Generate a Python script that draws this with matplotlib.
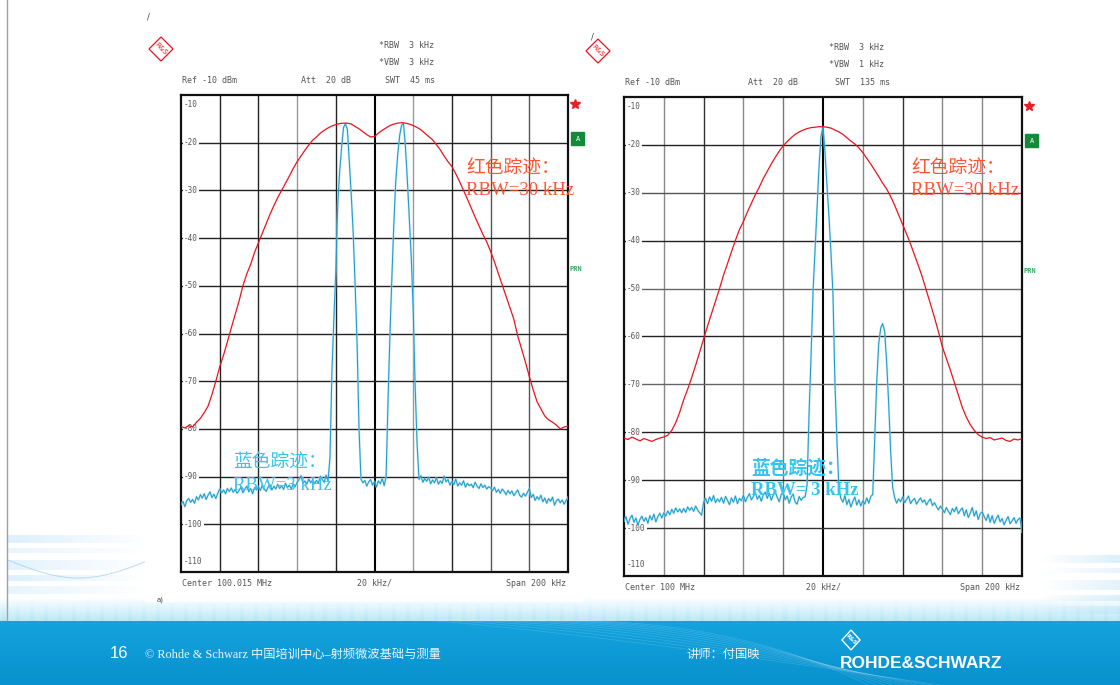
import numpy as np
import matplotlib.pyplot as plt
from matplotlib.patches import Rectangle, Polygon

# ---------------------------------------------------------------------------
# Spectrum analyser traces (level in dBm), frequency offset from centre in kHz
# ---------------------------------------------------------------------------
span_khz = (-100, 100)
ref_levels = [-10, -20, -30, -40, -50, -60, -70, -80, -90, -100, -110]

# red traces are sampled every 2 kHz, blue traces every 1 kHz
freq_red = np.arange(-100, 101, 2)
freq_blue = np.arange(-100, 101, 1)

# a) two carriers, RBW 30 kHz (red) and RBW 3 kHz (blue)
left_red = [
    -79.5, -79.8, -79.3, -79.6, -78.6, -77.8, -76.6, -75.2, -72.8, -70.0,
    -67.0, -64.5, -61.7, -58.8, -56.0, -53.2, -50.0, -47.5, -45.5, -43.0,
    -41.0, -39.0, -37.0, -35.0, -33.2, -31.5, -30.0, -28.5, -27.0, -25.4,
    -24.0, -22.8, -21.6, -20.5, -19.5, -18.8, -18.0, -17.4, -16.9, -16.5,
    -16.2, -16.0, -15.9, -15.9, -16.1, -16.6, -17.1, -17.7, -18.3, -18.8,
    -18.7, -18.0, -17.4, -16.9, -16.4, -16.1, -15.9, -15.8, -15.9, -16.1,
    -16.4, -16.8, -17.3, -18.0, -18.7, -19.4, -20.4, -21.5, -22.8, -24.0,
    -25.0, -26.5, -28.2, -30.0, -31.8, -33.7, -35.6, -37.4, -39.2, -40.8,
    -42.8, -45.0, -47.4, -49.8, -52.2, -54.6, -57.0, -60.5, -63.2, -66.0,
    -69.0, -71.8, -74.3, -75.8, -77.3, -78.1, -78.6, -79.2, -80.0, -79.6,
    -79.4,
]
left_blue = [
    -95.8, -95.2, -96.3, -95.0, -94.6, -95.4, -94.8, -95.6, -94.2, -94.9,
    -93.8, -94.5, -93.6, -94.8, -93.9, -93.2, -94.4, -93.7, -94.6, -93.5,
    -92.6, -93.4, -92.8, -93.6, -92.5, -93.1, -92.4, -93.3, -92.7, -93.5,
    -92.9, -92.2, -93.4, -92.6, -92.0, -93.2, -92.5, -93.6, -92.3, -92.8,
    -92.1, -92.9, -91.8, -92.6, -93.1, -92.2, -91.7, -92.8, -92.0, -92.6,
    -91.6, -92.5, -91.9, -92.7, -91.4, -92.3, -91.8, -92.6, -91.5, -92.1,
    -91.2, -90.6, -89.8, -91.4, -90.9, -91.6, -90.5, -91.3, -90.7, -91.5,
    -90.8, -91.4, -89.9, -90.6, -91.2, -89.7, -90.9, -86.0, -68.0, -57.0,
    -47.0, -33.0, -26.0, -21.0, -16.8, -16.0, -17.3, -24.0, -31.0, -39.0,
    -50.0, -62.0, -80.0, -90.5, -91.3, -90.8, -92.0, -91.1, -90.6, -91.8,
    -91.0, -92.2, -90.9, -91.5, -90.4, -91.9, -90.0, -74.0, -60.0, -48.0,
    -37.0, -28.0, -22.5, -18.5, -16.3, -16.0, -21.0, -28.0, -36.0, -44.0,
    -55.0, -71.0, -83.0, -90.6, -89.8, -91.2, -90.4, -91.0, -90.1, -91.5,
    -90.7, -91.3, -90.2, -91.6, -90.9, -91.4, -89.9, -91.1, -90.6, -91.8,
    -91.0, -91.7, -90.5, -92.0, -91.3, -91.8, -90.9, -92.2, -91.4, -91.9,
    -91.6, -92.3, -91.2, -92.0, -92.5, -91.5, -92.3, -91.8, -92.6, -92.1,
    -92.4, -93.0, -92.2, -93.3, -92.7, -93.5, -92.6, -93.1, -93.8, -92.9,
    -93.6, -93.0, -94.0, -93.4, -92.8, -93.9, -94.3, -93.5, -94.1, -93.3,
    -92.5, -94.4, -93.7, -95.0, -94.2, -94.8, -93.9, -95.3, -94.5, -95.6,
    -94.6, -95.2, -94.3, -96.0, -95.1, -94.7, -95.5, -94.9, -95.8, -95.0,
    -94.4,
]

# b) strong carrier plus weak carrier, RBW 30 kHz (red) and RBW 3 kHz (blue)
right_red = [
    -81.2, -81.5, -81.0, -81.4, -81.8, -81.3, -81.6, -81.9, -81.5, -81.2,
    -81.0, -80.6, -79.6, -78.0, -75.8, -73.2, -71.0, -68.6, -66.0, -63.3,
    -60.5, -57.8, -55.2, -52.6, -50.0, -47.2, -44.8, -42.3, -39.9, -37.7,
    -36.0, -34.0, -32.2, -30.4, -28.8, -27.0, -25.5, -24.0, -22.6, -21.3,
    -20.2, -19.3, -18.5, -17.8, -17.3, -16.9, -16.6, -16.4, -16.3, -16.2,
    -16.2, -16.3, -16.5, -16.9, -17.3, -17.8, -18.5, -19.2, -19.8, -20.6,
    -21.6, -22.8, -24.0, -25.3, -26.6, -28.0, -29.2, -30.8, -32.6, -34.6,
    -36.6, -38.6, -40.7, -43.0, -45.3, -47.7, -50.5, -53.2, -56.0, -59.0,
    -62.2, -64.6, -67.0, -69.6, -72.2, -74.8, -76.8, -78.4, -79.6, -80.5,
    -81.0, -81.3, -81.1, -81.6, -81.4, -81.2, -81.7, -81.9, -81.4, -81.6,
    -81.3,
]
right_blue = [
    -98.5, -97.6, -99.2, -98.0, -97.3, -98.8, -97.9, -99.4, -98.2, -97.5,
    -98.6, -97.8, -99.0, -97.4, -98.3, -97.1, -98.7, -97.6, -96.9, -97.9,
    -96.8, -97.5, -96.4, -97.2, -96.1, -96.9, -95.8, -96.6, -96.0, -96.8,
    -95.9, -96.7, -95.6, -96.3, -95.7, -96.5, -95.4, -96.2, -96.8, -97.3,
    -94.6, -93.8, -94.9, -93.5, -94.4, -93.2, -94.7, -93.9, -94.5, -93.6,
    -94.8, -93.4, -94.2, -95.1, -93.7, -94.6, -93.3, -94.9, -93.8, -94.3,
    -93.1, -94.5, -93.6, -92.8, -94.1, -93.4, -92.6, -94.0, -93.2, -94.4,
    -93.0, -92.5, -93.8, -92.7, -94.2, -93.1, -92.4, -93.6, -94.5, -93.0,
    -92.6, -94.1, -93.3, -94.8, -93.5, -92.9, -94.6, -95.0, -93.4, -94.2,
    -93.6, -93.5, -91.0, -76.0, -64.0, -50.5, -42.0, -33.0, -24.5, -18.2,
    -16.2, -21.5, -28.5, -35.0, -42.5, -51.0, -69.7, -81.5, -92.0, -93.8,
    -94.6, -93.2, -95.1, -94.0, -95.6, -94.4, -93.5, -95.2, -94.1, -95.4,
    -94.3, -95.0, -93.7, -94.8, -93.4, -93.0, -81.5, -69.5, -61.5, -58.2,
    -57.3, -59.0, -65.5, -74.0, -84.0, -91.5, -93.6, -94.8, -93.9, -94.5,
    -93.5, -94.7, -94.0, -93.3, -94.9, -94.2, -93.8, -95.0, -94.3, -93.7,
    -94.6, -94.1, -95.2, -94.4, -93.9, -95.3, -94.7, -95.5, -96.2, -95.4,
    -96.0, -96.8, -95.7, -96.5, -97.2, -95.9, -96.6, -95.6, -97.0, -96.3,
    -95.8, -97.4, -96.2, -97.8, -96.9, -95.7, -97.5, -96.4, -98.2, -97.0,
    -96.6, -97.6, -98.4, -97.1, -98.8, -97.4, -99.0, -98.1, -97.3, -98.7,
    -98.0, -99.3, -98.4, -97.6, -99.1, -98.5, -97.8, -99.0, -98.2, -97.9,
    -100.8,
]

# instrument settings printed around each screen
left_header = {"rbw": "*RBW  3 kHz", "vbw": "*VBW  3 kHz", "swt": "SWT  45 ms",
               "center": "Center 100.015 MHz"}
right_header = {"rbw": "*RBW  3 kHz", "vbw": "*VBW  1 kHz", "swt": "SWT  135 ms",
                "center": "Center 100 MHz"}

W, H = 1120, 685
RED = "#e8141c"
BLUE = "#1b9cca"
BLUE_HALO = "#a6def1"
ANN_RED = "#ff5533"
ANN_BLUE = "#35c3ef"
MONO = "DejaVu Sans Mono"
SERIF_CJK = ["Liberation Serif", "Noto Sans CJK SC"]

fig = plt.figure(figsize=(W / 100, H / 100), dpi=100)
fig.patch.set_facecolor("white")
bg = fig.add_axes([0, 0, 1, 1], zorder=0)
bg.axis("off")

# ---- footer band ------------------------------------------------------------
band = np.linspace(0, 1, 60)[:, None, None]
top_c = np.array([0.08, 0.64, 0.87])
bot_c = np.array([0.03, 0.57, 0.81])
band_img = top_c * (1 - band) + bot_c * band
band_img = np.repeat(band_img, 4, axis=1)
bg.imshow(band_img, extent=[0, W, 685, 620], aspect="auto", zorder=1)

# pale strip with thin vertical hatching above the band
cols = np.linspace(0, 1, 560)
stripe = 0.5 + 0.5 * (np.sin(cols * 560 * 0.9) > 0.6)
rows = np.linspace(0, 1, 24)[:, None]
strip = np.ones((24, 560, 3))
shade = rows * (0.25 + 0.10 * stripe[None, :])
strip[..., 0] = 1 - 0.85 * shade
strip[..., 1] = 1 - 0.30 * shade
strip[..., 2] = 1 - 0.06 * shade
bg.imshow(strip, extent=[0, W, 621, 597], aspect="auto", zorder=1)

# light decorative streaks at both lower corners
for y0, h, a in [(535, 8, 0.30), (548, 5, 0.20), (560, 10, 0.25), (575, 6, 0.30), (586, 8, 0.20)]:
    grad = np.linspace(1, 0, 100)[None, :]
    col = np.ones((1, 100, 3)) * np.array([0.55, 0.80, 0.95])
    rgba = np.dstack([col, a * grad])
    bg.imshow(rgba, extent=[8, 150, y0 + h, y0], aspect="auto", zorder=1)
    rgba2 = np.dstack([col, a * grad[:, ::-1]])
    bg.imshow(rgba2, extent=[1040, 1120, y0 + h + 20, y0 + 20], aspect="auto", zorder=1)
xs = np.linspace(8, 150, 60)
bg.plot(xs, 560 + 18 * np.sin((xs - 8) / 45), color="#9ccbe8", lw=0.8, alpha=0.6, zorder=1)

# faint mesh lines inside the band
for k in range(10):
    xs = np.linspace(420 + 12 * k, 940 - 8 * k, 80)
    ys = 620 + 65 * ((xs - xs[0]) / (xs[-1] - xs[0])) ** (1.2 + 0.15 * k)
    bg.plot(xs, ys, color="white", lw=0.5, alpha=0.16, zorder=2)

# left border rule
bg.plot([7, 7], [0, 620], color="#a0a0a0", lw=1.0, zorder=2)

bg.set_xlim(0, W)
bg.set_ylim(H, 0)

# footer text
bg.text(110, 654, "16", color="white", fontsize=12, family="Liberation Sans",
        va="center", ha="left", zorder=5)
bg.text(145, 655, "© Rohde & Schwarz 中国培训中心–射频微波基础与测量", color="#eaf7fd",
        fontsize=8.8, family=SERIF_CJK, va="center", ha="left", zorder=5)
bg.text(686, 654, "讲师：付国映", color="#eaf7fd", fontsize=8.8,
        family=["Noto Sans CJK SC"], va="center", ha="left", zorder=5)
bg.text(840, 664, "ROHDE&SCHWARZ", color="white", fontsize=12.5, weight="bold",
        family="Liberation Sans", va="center", ha="left", zorder=5)
bg.add_patch(Polygon([(851, 630), (860, 640), (851, 650), (842, 640)], closed=True,
                     fill=False, ec="white", lw=1.0, zorder=5))
bg.text(851, 640, "R&S", color="white", fontsize=4, rotation=-45, ha="center",
        va="center", weight="bold", zorder=5)

# small marks on the slide
bg.text(148, 17, "/", fontsize=6, color="#444", ha="center", va="center")
bg.text(592, 37, "/", fontsize=6, color="#444", ha="center", va="center")
bg.text(160, 600, "a)", fontsize=5, color="#444", ha="center", va="center", zorder=3)


def px_axes(x0, y0, x1, y1):
    return fig.add_axes([x0 / W, 1 - y1 / H, (x1 - x0) / W, (y1 - y0) / H], zorder=3)


def rs_logo(cx, cy):
    r = 12
    bg.add_patch(Polygon([(cx, cy - r), (cx + r, cy), (cx, cy + r), (cx - r, cy)],
                         closed=True, fill=False, ec=RED, lw=0.9, zorder=4))
    bg.text(cx, cy, "R&S", color=RED, fontsize=5, rotation=-45, ha="center",
            va="center", zorder=4)


def screen(box, freq_r, red, freq_b, blue, header, vgrid, hgrid,
           hdr_pos, label_x, ann):
    x0, y0, x1, y1 = box
    ax = px_axes(x0, y0, x1, y1)
    ax.set_xlim(*span_khz)
    ax.set_ylim(ref_levels[-1], ref_levels[0])
    ax.set_xticks([])
    ax.set_yticks([])
    for s in ax.spines.values():
        s.set_linewidth(1.6)
        s.set_color("#111")

    vpos = np.arange(-80, 81, 20)
    for xv, c in zip(vpos, vgrid):
        ax.axvline(xv, color=c, lw=1.5 if xv == 0 else 1.0, zorder=1)
    for yv, c in zip(ref_levels[1:-1], hgrid):
        ax.axhline(yv, color=c, lw=1.0, zorder=1)

    # level labels along the left edge
    for lvl in ref_levels:
        if lvl == ref_levels[0]:
            yy = lvl - 2.0
        elif lvl == ref_levels[-1]:
            yy = lvl + 2.3
        else:
            yy = lvl
        ax.text(label_x, yy, f"-{abs(lvl)}", fontsize=5.5, family=MONO, color="#555",
                ha="left", va="center", zorder=2,
                bbox=dict(boxstyle="square,pad=0.15", fc="white", ec="none"))

    ax.plot(freq_b, blue, color=BLUE_HALO, lw=1.6, alpha=0.6, zorder=3)
    ax.plot(freq_b, blue, color=BLUE, lw=0.75, zorder=4)
    ax.plot(freq_r, red, color=RED, lw=0.9, zorder=5)

    # trace annotations
    (rx, ry), (bx, by), bold_blue = ann
    kw = dict(transform=bg.transData, family=SERIF_CJK, fontsize=13.5,
              ha="left", va="center", zorder=6)
    ax.text(rx, ry, "红色踪迹：", color=ANN_RED, **kw)
    ax.text(rx, ry + 21, "RBW=30 kHz", color=ANN_RED, **kw)
    bw = "bold" if bold_blue else "normal"
    ax.text(bx, by, "蓝色踪迹：", color=ANN_BLUE, weight=bw, **kw)
    ax.text(bx, by + 22, "RBW= 3 kHz" if bold_blue else "RBW=3 kHz",
            color=ANN_BLUE, weight=bw, **kw)

    # header / footer lines printed by the analyser
    hx_rbw, hy_rbw, hx_att, hy_ref = hdr_pos
    tk = dict(fontsize=6.0, family=MONO, color="#555", va="center", zorder=4)
    bg.text(hx_rbw, hy_rbw, header["rbw"], ha="left", **tk)
    bg.text(hx_rbw, hy_rbw + 17.5, header["vbw"], ha="left", **tk)
    bg.text(x0 + 1, hy_ref, "Ref -10 dBm", ha="left", **tk)
    bg.text(hx_att, hy_ref, "Att  20 dB", ha="left", **tk)
    bg.text(hx_rbw + 6, hy_ref, header["swt"], ha="left", **tk)
    bg.text(x0 + 1, y1 + 11, header["center"], ha="left", **tk)
    bg.text((x0 + x1) / 2, y1 + 11, "20 kHz/", ha="center", **tk)
    bg.text(x1 - 2, y1 + 11, "Span 200 kHz", ha="right", **tk)

    # status markers at the right of the screen
    bg.plot(x1 + 7, y0 + 9, marker="*", color="#ee1c24", ms=7, zorder=4)
    bg.add_patch(Rectangle((x1 + 3, y0 + 37), 13, 13, color="#13893a", zorder=4))
    bg.text(x1 + 9.5, y0 + 43.5, "A", color="white", fontsize=5, family=MONO,
            ha="center", va="center", zorder=5)
    bg.text(x1 + 2, y0 + 174, "PRN", color="#3aa461", fontsize=5, family=MONO,
            weight="bold", ha="left", va="center", zorder=4)
    return ax


# chart panels
bg.add_patch(Rectangle((145, 28), 437, 573, color="white", zorder=2))
bg.add_patch(Rectangle((590, 28), 450, 570, color="white", zorder=2))

rs_logo(161, 49)
rs_logo(598, 51)

screen((181, 95, 568, 572), freq_red, left_red, freq_blue, left_blue, left_header,
       vgrid=["#222", "#222", "#999", "#222", "#000", "#999", "#222", "#555", "#555"],
       hgrid=["#222"] * 9,
       hdr_pos=(379, 45, 301, 80), label_x=-98.5,
       ann=((466, 169), (233, 463), False))

screen((624, 97, 1022, 576), freq_red, right_red, freq_blue, right_blue, right_header,
       vgrid=["#888", "#333", "#888", "#777", "#000", "#888", "#333", "#888", "#888"],
       hgrid=["#222", "#555", "#222", "#666", "#222", "#666", "#222", "#222", "#333"],
       hdr_pos=(829, 47, 748, 82), label_x=-98.5,
       ann=((911, 169), (751, 468), True))

fig.savefig("out.png", dpi=100, facecolor="white")
